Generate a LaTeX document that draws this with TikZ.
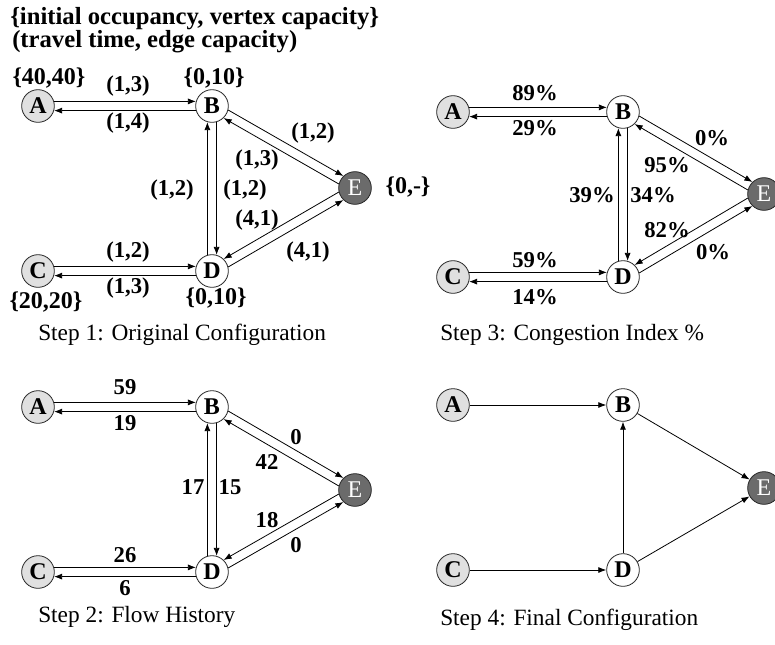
\documentclass[tikz,border=0pt]{standalone}
\usepackage{fontspec}
\setmainfont{Liberation Serif}
\usetikzlibrary{arrows.meta}

\tikzset{
  vertex/.style={circle,draw=black!85,line width=0.6pt,minimum size=24.5pt,inner sep=0pt,font=\fontsize{18}{18}\selectfont\bfseries},
  srcnode/.style={vertex,fill=black!12},
  relaynode/.style={vertex,fill=white},
  sinknode/.style={vertex,fill=black!58,text=white,font=\fontsize{18}{18}\selectfont},
  flowarrow/.style={-{Latex[length=6pt,width=4.5pt]},line width=0.6pt},
  edgelabel/.style={font=\fontsize{17}{17}\selectfont\bfseries,inner sep=0pt},
  vnote/.style={font=\fontsize{18}{18}\selectfont\bfseries,inner sep=0pt},
  steptitle/.style={font=\fontsize{17.5}{17.5}\selectfont,anchor=west,inner sep=0pt}
}

\begin{document}
\begin{tikzpicture}[x=0.75pt,y=-0.75pt]
\useasboundingbox (0,0) rectangle (775,644);

% legend
\node[vnote,anchor=west,font=\fontsize{18.5}{18.5}\selectfont\bfseries] (legv) at (10,19) {\{initial occupancy, vertex capacity\}};
\node[vnote,anchor=west,font=\fontsize{18.5}{18.5}\selectfont\bfseries] (lege) at (12,42) {(travel time, edge capacity)};

% step 1: original configuration
\node[srcnode] (A1) at (38,106) {A};
\node[relaynode] (B1) at (212,106) {B};
\node[sinknode] (E1) at (355,188) {E};
\node[srcnode] (C1) at (38,271) {C};
\node[relaynode] (D1) at (212,271) {D};
\draw[flowarrow] (A1.16) -- (B1.164);
\draw[flowarrow] (B1.-164) -- (A1.-16);
\draw[flowarrow] (C1.16) -- (D1.164);
\draw[flowarrow] (D1.-164) -- (C1.-16);
\draw[flowarrow] (D1.106) -- (B1.-106);
\draw[flowarrow] (B1.-74) -- (D1.74);
\draw[flowarrow] (B1.-14) -- (E1.134);
\draw[flowarrow] (E1.166) -- (B1.-46);
\draw[flowarrow] (D1.14) -- (E1.-134);
\draw[flowarrow] (E1.-166) -- (D1.46);
\node[edgelabel] at (128,86) {(1,3)};
\node[edgelabel] at (128,123) {(1,4)};
\node[edgelabel] at (313,133) {(1,2)};
\node[edgelabel] at (257,160) {(1,3)};
\node[edgelabel] at (172,190) {(1,2)};
\node[edgelabel] at (245,190) {(1,2)};
\node[edgelabel] at (257,220) {(4,1)};
\node[edgelabel] at (308,252) {(4,1)};
\node[edgelabel] at (128,252) {(1,2)};
\node[edgelabel] at (128,288) {(1,3)};
\node[vnote] at (49,78) {\{40,40\}};
\node[vnote] at (214,78) {\{0,10\}};
\node[vnote] at (408,187) {\{0,-\}};
\node[vnote] at (46,302) {\{20,20\}};
\node[vnote] at (216,298) {\{0,10\}};
\node[steptitle] at (38,335) {Step 1: Original Configuration};

% step 2: flow history
\node[srcnode] (A2) at (38,407) {A};
\node[relaynode] (B2) at (212,407) {B};
\node[sinknode] (E2) at (355,490) {E};
\node[srcnode] (C2) at (38,572) {C};
\node[relaynode] (D2) at (212,572) {D};
\draw[flowarrow] (A2.16) -- (B2.164);
\draw[flowarrow] (B2.-164) -- (A2.-16);
\draw[flowarrow] (C2.16) -- (D2.164);
\draw[flowarrow] (D2.-164) -- (C2.-16);
\draw[flowarrow] (D2.106) -- (B2.-106);
\draw[flowarrow] (B2.-74) -- (D2.74);
\draw[flowarrow] (B2.-14) -- (E2.134);
\draw[flowarrow] (E2.166) -- (B2.-46);
\draw[flowarrow] (D2.14) -- (E2.-134);
\draw[flowarrow] (E2.-166) -- (D2.46);
\node[edgelabel] at (125,387) {59};
\node[edgelabel] at (125,423) {19};
\node[edgelabel] at (296,437) {0};
\node[edgelabel] at (267,462) {42};
\node[edgelabel] at (193,487) {17};
\node[edgelabel] at (230,487) {15};
\node[edgelabel] at (267,520) {18};
\node[edgelabel] at (296,545) {0};
\node[edgelabel] at (125,555) {26};
\node[edgelabel] at (125,588) {6};
\node[steptitle] at (38,617) {Step 2: Flow History};

% step 3: congestion index
\node[srcnode] (A3) at (453,112) {A};
\node[relaynode] (B3) at (623,112) {B};
\node[sinknode] (E3) at (764,194) {E};
\node[srcnode] (C3) at (453,277) {C};
\node[relaynode] (D3) at (623,277) {D};
\draw[flowarrow] (A3.16) -- (B3.164);
\draw[flowarrow] (B3.-164) -- (A3.-16);
\draw[flowarrow] (C3.16) -- (D3.164);
\draw[flowarrow] (D3.-164) -- (C3.-16);
\draw[flowarrow] (D3.106) -- (B3.-106);
\draw[flowarrow] (B3.-74) -- (D3.74);
\draw[flowarrow] (B3.-14) -- (E3.134);
\draw[flowarrow] (E3.166) -- (B3.-46);
\draw[flowarrow] (D3.14) -- (E3.-134);
\draw[flowarrow] (E3.-166) -- (D3.46);
\node[edgelabel] at (535,93) {89\%};
\node[edgelabel] at (535,128) {29\%};
\node[edgelabel] at (712,138) {0\%};
\node[edgelabel] at (667,165) {95\%};
\node[edgelabel] at (592,195) {39\%};
\node[edgelabel] at (653,195) {34\%};
\node[edgelabel] at (667,230) {82\%};
\node[edgelabel] at (713,252) {0\%};
\node[edgelabel] at (535,260) {59\%};
\node[edgelabel] at (535,297) {14\%};
\node[steptitle] at (440,335) {Step 3: Congestion Index \%};

% step 4: final configuration
\node[srcnode] (A4) at (453,405) {A};
\node[relaynode] (B4) at (623,405) {B};
\node[sinknode] (E4) at (764,488) {E};
\node[srcnode] (C4) at (453,570) {C};
\node[relaynode] (D4) at (623,570) {D};
\draw[flowarrow] (A4) -- (B4);
\draw[flowarrow] (C4) -- (D4);
\draw[flowarrow] (D4) -- (B4);
\draw[flowarrow] (B4) -- (E4);
\draw[flowarrow] (D4) -- (E4);
\node[steptitle] at (440,620) {Step 4: Final Configuration};
\end{tikzpicture}
\end{document}
